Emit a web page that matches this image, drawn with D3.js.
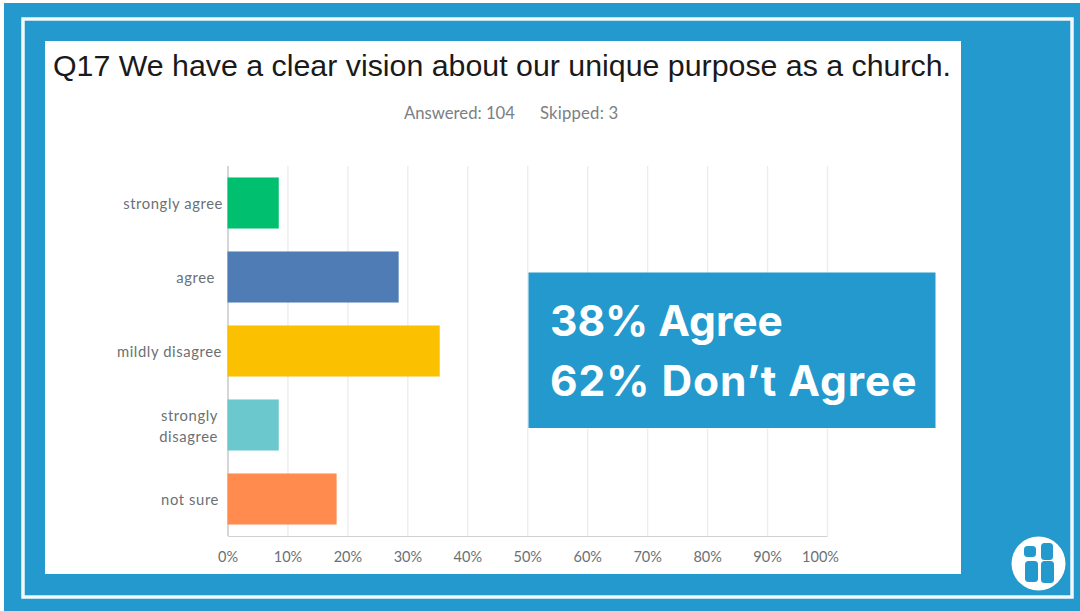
<!DOCTYPE html>
<html>
<head>
<meta charset="utf-8">
<script src="https://cdn.jsdelivr.net/npm/d3@7.9.0/dist/d3.min.js"></script>
<style>
html, body { margin: 0; padding: 0; background: #fff; }
svg { display: block; }
</style>
</head>
<body>
<div id="chart"></div>
<script>
const categories = [['strongly agree'], ['agree'], ['mildly disagree'], ['strongly', 'disagree'], ['not sure']];
const values = [8.55, 28.55, 35.4, 8.55, 18.2];
const barColors = ['#00bf6f', '#507cb6', '#fbc000', '#6bc8cd', '#ff8b4f'];
const ticks = [0, 10, 20, 30, 40, 50, 60, 70, 80, 90, 100];
const title = 'Q17 We have a clear vision about our unique purpose as a church.';
const subtitle = ['Answered: 104', 'Skipped: 3'];
const callout = ['38% Agree', '62% Don\u2019t Agree'];

const width = 1080;
const height = 611;
const blue = '#2399cd';
const labelFont = 'Lato, "Open Sans", sans-serif';

const svg = d3.select('#chart').append('svg')
    .attr('width', width)
    .attr('height', height)
    .attr('viewBox', `0 0 ${width} ${height}`);

// background and frame
svg.append('rect').attr('x', 4).attr('y', 3).attr('width', width - 4).attr('height', height - 3).attr('fill', blue);
svg.append('rect').attr('x', 23).attr('y', 19).attr('width', 1049).attr('height', 578)
    .attr('fill', 'none').attr('stroke', '#f2f8fb').attr('stroke-width', 3.5);
svg.append('rect').attr('x', 45).attr('y', 41).attr('width', 916).attr('height', 533).attr('fill', '#fff');

svg.append('text')
    .attr('x', 53).attr('y', 75.5)
    .attr('font-family', '"Liberation Sans", Arial, sans-serif')
    .attr('font-size', 30.33)
    .attr('fill', '#1a1a1a')
    .text(title);

svg.selectAll('.subtitle')
    .data(subtitle)
    .join('text')
    .attr('class', 'subtitle')
    .attr('x', (d, i) => i === 0 ? 404 : 540)
    .attr('y', 119)
    .attr('font-family', labelFont)
    .attr('font-size', 16.7)
    .attr('letter-spacing', (d, i) => i === 0 ? 0 : 0.2)
    .attr('fill', '#7b8084')
    .text(d => d);

const xScale = d3.scaleLinear().domain([0, 100]).range([227.5, 827]);
const yScale = d3.scaleBand().domain(d3.range(categories.length)).range([166, 536]).paddingInner(0.31).paddingOuter(0.155);

const grid = svg.append('g').attr('class', 'gridlines')
    .attr('transform', 'translate(0, 536)')
    .call(d3.axisBottom(xScale).tickValues(ticks).tickFormat('').tickSize(-370).tickSizeOuter(0));
grid.select('.domain').attr('stroke', '#d0d2d3').attr('stroke-width', 1.2);
grid.selectAll('.tick line').attr('stroke', d => d === 0 ? '#c4c6c7' : '#ecedee').attr('stroke-width', 1.4);

svg.append('g').selectAll('rect')
    .data(values)
    .join('rect')
    .attr('x', xScale(0))
    .attr('y', (d, i) => yScale(i))
    .attr('width', d => xScale(d) - xScale(0))
    .attr('height', yScale.bandwidth())
    .attr('fill', (d, i) => barColors[i]);

const xAxis = svg.append('g')
    .attr('transform', 'translate(0, 536)')
    .call(d3.axisBottom(xScale).tickValues(ticks).tickFormat(d => d + '%').tickSize(0).tickPadding(16));
xAxis.select('.domain').remove();
xAxis.selectAll('text')
    .attr('dx', d => d === 100 ? -7 : 0)
    .attr('font-family', labelFont)
    .attr('font-size', 14.5)
    .attr('fill', '#6b7074');

const catLabels = svg.append('g').selectAll('text')
    .data(categories)
    .join('text')
    .attr('text-anchor', 'end')
    .attr('font-family', labelFont)
    .attr('font-size', 14.8)
    .attr('letter-spacing', 0.6)
    .attr('fill', '#6b7074');

catLabels.each(function (lines, i) {
    const cy = yScale(i) + yScale.bandwidth() / 2;
    const ends = [223, 215, 222, 218, 219];
    d3.select(this).selectAll('tspan')
        .data(lines)
        .join('tspan')
        .attr('x', ends[i])
        .attr('y', (d, j) => cy + 6 + (j - (lines.length - 1) / 2) * 21)
        .text(d => d);
});

// callout box
svg.append('rect').attr('x', 528.5).attr('y', 272.5).attr('width', 407).attr('height', 155.5).attr('fill', blue);
svg.selectAll('.callout')
    .data(callout)
    .join('text')
    .attr('class', 'callout')
    .attr('x', 550)
    .attr('y', (d, i) => 336 + i * 60)
    .attr('font-family', 'Inter, "Open Sans", sans-serif')
    .attr('font-weight', 700)
    .attr('font-size', 42.5)
    .attr('letter-spacing', (d, i) => i === 0 ? 0 : 0.95)
    .attr('fill', '#fff')
    .text(d => d);

// logo, round badge with four window panes
const logo = svg.append('g').attr('transform', 'translate(1038.5, 563.5)');
logo.append('circle').attr('r', 27).attr('fill', '#fff');
const panes = [
    { x: -14.5, y: -17.5, w: 12, h: 11 },
    { x: 2.5, y: -20.5, w: 12, h: 17 },
    { x: -13.5, y: -2.5, w: 13, h: 21 },
    { x: 2.5, y: -2.5, w: 13, h: 22 }
];
logo.selectAll('rect')
    .data(panes)
    .join('rect')
    .attr('x', d => d.x).attr('y', d => d.y)
    .attr('width', d => d.w).attr('height', d => d.h)
    .attr('rx', 3.5)
    .attr('fill', blue);
</script>
</body>
</html>
